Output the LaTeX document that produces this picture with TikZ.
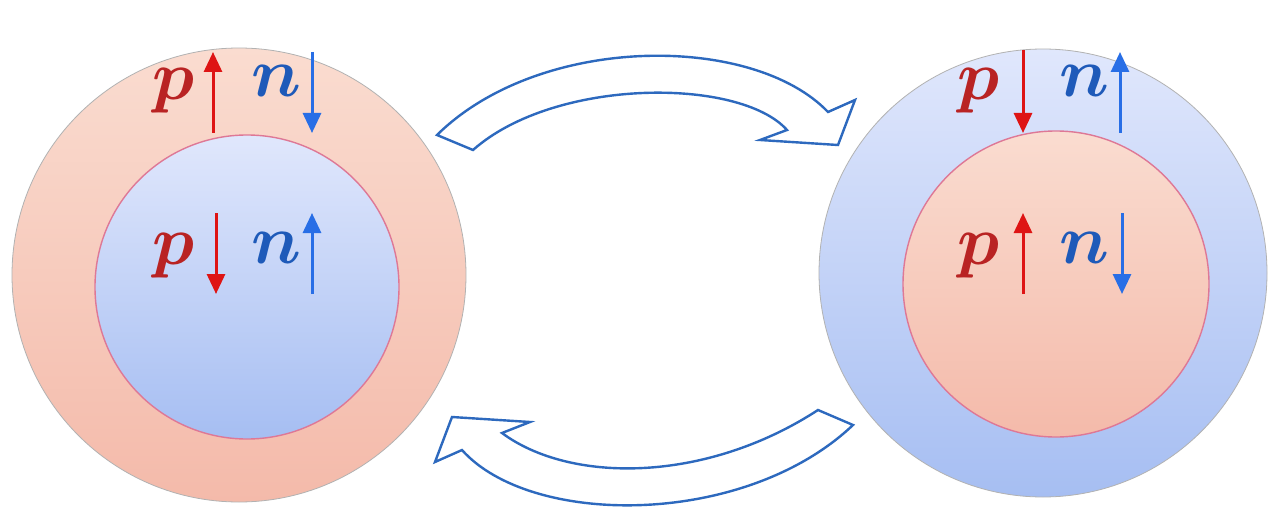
\RequirePackage{fix-cm}
\documentclass[tikz,border=0pt]{standalone}
\usepackage{amsmath}
\usetikzlibrary{arrows.meta}
\definecolor{saltop}{RGB}{250,220,208}
\definecolor{salbot}{RGB}{244,186,170}
\definecolor{blutop}{RGB}{224,231,252}
\definecolor{blubot}{RGB}{166,190,242}
\definecolor{coreEdge}{RGB}{222,120,150}
\definecolor{protonRed}{RGB}{185,35,35}
\definecolor{neutronBlue}{RGB}{30,90,185}
\definecolor{spinRed}{RGB}{222,20,20}
\definecolor{spinBlue}{RGB}{40,110,230}
\definecolor{flowBlue}{RGB}{45,105,190}

\begin{document}
\begin{tikzpicture}[x=0.5pt,y=-0.5pt,
    shell/.style={circle, inner sep=0pt, draw=gray!60, line width=0.4pt},
    core/.style={circle, inner sep=0pt, draw=coreEdge, line width=0.7pt},
    pinkball/.style={top color=saltop, bottom color=salbot},
    blueball/.style={top color=blutop, bottom color=blubot},
    nucl/.style={font=\fontsize{35}{35}\selectfont, anchor=base, inner sep=0pt},
    spinR/.style={draw=spinRed, line width=1.5pt, -{Triangle[length=10pt,width=9pt]}},
    spinB/.style={draw=spinBlue, line width=1.5pt, -{Triangle[length=10pt,width=9pt]}},
    flow/.style={draw=flowBlue, fill=white, line width=1.2pt, line join=miter}
  ]
  \useasboundingbox (0,0) rectangle (1268,508);
  \fill[white] (0,0) rectangle (1268,508);

  % left nucleus: pink skin, blue core
  \node[shell, pinkball, minimum size=227pt] (skinL) at (239,275) {};
  \node[core, blueball, minimum size=152pt]  (coreL) at (247,287) {};
  % right nucleus: blue skin, pink core
  \node[shell, blueball, minimum size=224pt] (skinR) at (1043,273) {};
  \node[core, pinkball, minimum size=153pt]  (coreR) at (1056,284) {};

  % labels, left
  \node[nucl, text=protonRed]   (pSkinL) at (174,99)  {$\boldsymbol{p}$};
  \node[nucl, text=neutronBlue] (nSkinL) at (276,97)  {$\boldsymbol{n}$};
  \node[nucl, text=protonRed]   (pCoreL) at (174,264) {$\boldsymbol{p}$};
  \node[nucl, text=neutronBlue] (nCoreL) at (276,263) {$\boldsymbol{n}$};
  \draw[spinR] (213,133) -- (213,52);
  \draw[spinB] (312,52)  -- (312,133);
  \draw[spinR] (216,213) -- (216,294);
  \draw[spinB] (312,294) -- (312,213);

  % labels, right
  \node[nucl, text=protonRed]   (pSkinR) at (979,99)  {$\boldsymbol{p}$};
  \node[nucl, text=neutronBlue] (nSkinR) at (1084,97) {$\boldsymbol{n}$};
  \node[nucl, text=protonRed]   (pCoreR) at (979,264) {$\boldsymbol{p}$};
  \node[nucl, text=neutronBlue] (nCoreR) at (1084,263) {$\boldsymbol{n}$};
  \draw[spinR] (1023,50)  -- (1023,133);
  \draw[spinB] (1120,133) -- (1120,52);
  \draw[spinR] (1023,294) -- (1023,213);
  \draw[spinB] (1122,213) -- (1122,294);

  % block arrows between the two
  \draw[flow] (437,135) .. controls (540,33.5) and (753,33.5) .. (828,112)
    -- (855,100) -- (838,145) -- (760,140) -- (787,130)
    .. controls (740,77.3) and (555,77.3) .. (473,150) -- cycle;
  \draw[flow] (435,462) -- (452,417) -- (530,422) -- (502,433)
    .. controls (570,483.5) and (705,483.5) .. (818,410)
    -- (853,425) .. controls (745,527.5) and (531,527.5) .. (462,450) -- cycle;
\end{tikzpicture}
\end{document}
